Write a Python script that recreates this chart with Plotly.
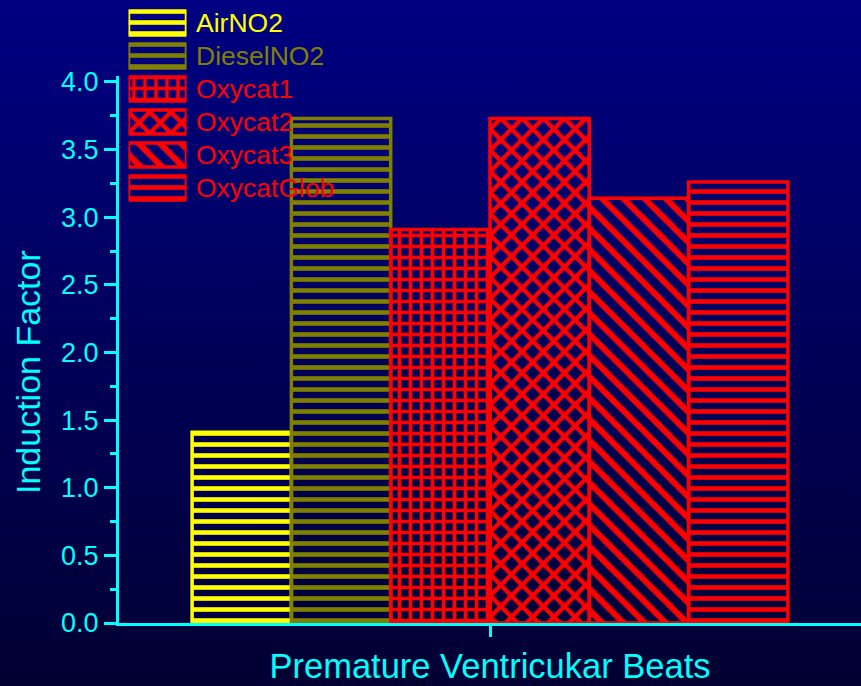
import base64
import plotly.graph_objects as go

# ---- data ----
categories = ["Premature Ventricukar Beats"]
series_names = ["AirNO2", "DieselNO2", "Oxycat1", "Oxycat2", "Oxycat3", "OxycatGlob"]
series_values = [1.41, 3.73, 2.91, 3.73, 3.14, 3.26]
y_tick_values = [0.0, 0.5, 1.0, 1.5, 2.0, 2.5, 3.0, 3.5, 4.0]
y_title = "Induction Factor"

# ---- styles ----
colors = ["#FFFF00", "#808000", "#FF0000", "#FF0000", "#FF0000", "#FF0000"]
shapes = ["-", "-", "+", "x", "\\", "-"]
psizes = [11, 11, 11, 15, 15, 11]
psolid = [0.42, 0.42, 0.55, 0.5, 0.4, 0.42]
CYAN = "#00FFFF"
FONT = "Liberation Sans, Arial, sans-serif"

W, H = 861, 686
ML, MR, MT, MB = 119, 0, 0, 63
PW, PH = W - ML - MR, H - MT - MB
AXIS_TOP_PX = 76  # top of the y axis line

fig = go.Figure()
for n, v, c, s, ps, so in zip(series_names, series_values, colors, shapes, psizes, psolid):
    fig.add_trace(go.Bar(
        x=categories, y=[v], name=n, showlegend=False,
        marker=dict(color="rgba(0,0,0,0)", line=dict(color=c, width=3.5),
                    pattern=dict(shape=s, fgcolor=c, bgcolor="rgba(0,0,0,0)", fgopacity=1,
                                 size=ps, solidity=so, fillmode="overlay")),
        xaxis="x", yaxis="y",
    ))

# legend swatches (single trace, one bar per series) on an overlay axis pair
fig.add_trace(go.Bar(
    y=series_names, x=[1] * len(series_names), orientation="h", width=0.72,
    showlegend=False, hoverinfo="skip",
    marker=dict(color="rgba(0,0,0,0)", line=dict(color=colors, width=3.5),
                pattern=dict(shape=shapes, fgcolor=colors, bgcolor="rgba(0,0,0,0)", fgopacity=1,
                             size=psizes, solidity=psolid, fillmode="overlay")),
    xaxis="x2", yaxis="y2",
))

annotations = []
for n, c in zip(series_names, colors):
    annotations.append(dict(
        text=n, xref="paper", yref="y2", x=(194 - ML) / PW, y=n,
        xanchor="left", yanchor="middle", showarrow=False,
        font=dict(family=FONT, size=26.5, color=c),
    ))
annotations.append(dict(
    text=y_title, xref="paper", yref="paper",
    x=(28 - ML) / PW, y=(H - MB - 372) / PH, textangle=-90,
    xanchor="center", yanchor="middle", showarrow=False,
    font=dict(family=FONT, size=34, color=CYAN),
))

svg = ('<svg xmlns="http://www.w3.org/2000/svg" width="861" height="686" preserveAspectRatio="none">'
       '<defs><linearGradient id="g" x1="0" y1="0" x2="0" y2="1">'
       '<stop offset="0" stop-color="#000082"/><stop offset="1" stop-color="#000032"/>'
       '</linearGradient></defs><rect width="861" height="686" fill="url(#g)"/></svg>')
src = "data:image/svg+xml;base64," + base64.b64encode(svg.encode()).decode()

ytop_dom = (PH - AXIS_TOP_PX) / PH
ymax = 4.0 + (82 - AXIS_TOP_PX) / 135.4

fig.update_layout(
    width=W, height=H, margin=dict(l=ML, r=MR, t=MT, b=MB, autoexpand=False),
    paper_bgcolor="#000040", plot_bgcolor="rgba(0,0,0,0)",
    barmode="group", bargap=0.197, bargroupgap=0,
    font=dict(family=FONT, color=CYAN),
    showlegend=False,
    images=[dict(source=src, xref="paper", yref="paper", x=-ML / PW, y=1 + MT / PH,
                 sizex=W / PW, sizey=H / PH, xanchor="left", yanchor="top",
                 sizing="stretch", layer="below")],
    xaxis=dict(
        domain=[0, 1], range=[-0.5, 0.5], showgrid=False, zeroline=False,
        showline=True, linecolor=CYAN, linewidth=3,
        ticks="outside", ticklen=11, tickwidth=3, tickcolor=CYAN,
        showticklabels=False,
        title=dict(text=categories[0], font=dict(family=FONT, size=34.5, color=CYAN), standoff=18),
    ),
    yaxis=dict(
        domain=[0, ytop_dom], range=[0, ymax], showgrid=False, zeroline=False,
        showline=True, linecolor=CYAN, linewidth=3,
        tickvals=y_tick_values, tickformat=".1f",
        ticks="outside", ticklen=12, tickwidth=3, tickcolor=CYAN,
        tickfont=dict(family=FONT, size=27, color=CYAN),
        minor=dict(dtick=0.25, tick0=0, ticks="outside", ticklen=6, tickwidth=3, tickcolor=CYAN),
    ),
    xaxis2=dict(domain=[(128.5 - ML) / PW, (186.5 - ML) / PW], range=[0, 1], anchor="y2",
                visible=False, fixedrange=True),
    yaxis2=dict(domain=[(PH - 205) / PH, (PH - 6) / PH], anchor="x2",
                categoryorder="array", categoryarray=series_names, autorange="reversed",
                visible=False, fixedrange=True),
    annotations=annotations,
)

fig.write_html("out.html")
